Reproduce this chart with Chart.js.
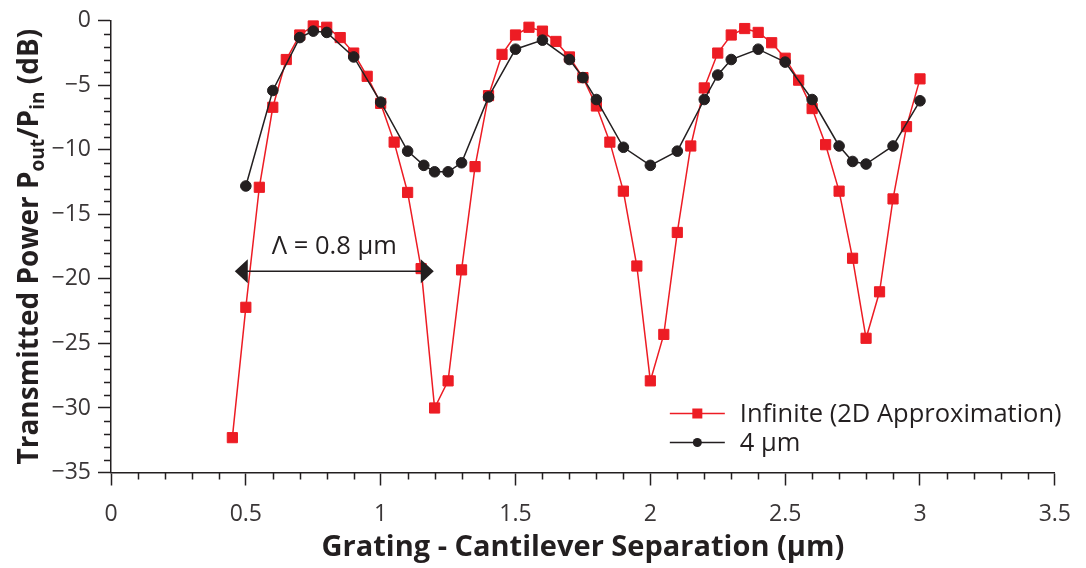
<!DOCTYPE html>
<html>
<head>
<meta charset="utf-8">
<script src="https://cdn.jsdelivr.net/npm/chart.js@4.4.1/dist/chart.umd.min.js"></script>
<style>
  html, body { margin: 0; padding: 0; background: #fff; }
  #wrap { width: 1086px; height: 568px; }
</style>
</head>
<body>
<div id="wrap"><canvas id="chart" width="1086" height="568"></canvas></div>
<script>
// Infinite (2D approximation), red squares
const INFINITE_X = [
  0.45, 0.5, 0.55, 0.6, 0.65, 0.7, 0.75, 0.8, 0.85, 0.9, 0.95, 1.0, 1.05,
  1.1, 1.15, 1.2, 1.25, 1.3, 1.35, 1.4, 1.45, 1.5, 1.55, 1.6, 1.65, 1.7,
  1.75, 1.8, 1.85, 1.9, 1.95, 2.0, 2.05, 2.1, 2.15, 2.2, 2.25, 2.3, 2.35,
  2.4, 2.45, 2.5, 2.55, 2.6, 2.65, 2.7, 2.75, 2.8, 2.85, 2.9, 2.95, 3.0
]
const INFINITE_DB = [
  -32.3, -22.2, -12.9, -6.7, -3.0, -1.1, -0.4, -0.5, -1.3, -2.5, -4.3, -6.4, -9.4,
  -13.3, -19.2, -30.0, -27.9, -19.3, -11.3, -5.8, -2.6, -1.1, -0.5, -0.8, -1.6, -2.8,
  -4.4, -6.6, -9.4, -13.2, -19.0, -27.9, -24.3, -16.4, -9.7, -5.2, -2.5, -1.1, -0.6,
  -0.9, -1.7, -2.9, -4.6, -6.8, -9.6, -13.2, -18.4, -24.6, -21.0, -13.8, -8.2, -4.5
]

// 4 um cantilever, black circles
const FINITE_X = [
  0.5, 0.6, 0.7, 0.75, 0.8, 0.9, 1.0, 1.1, 1.16, 1.2, 1.25, 1.3, 1.4, 1.5, 1.6,
  1.7, 1.75, 1.8, 1.9, 2.0, 2.1, 2.2, 2.25, 2.3, 2.4, 2.5, 2.6, 2.7, 2.75, 2.8,
  2.9, 3.0
]
const FINITE_DB = [
  -12.8, -5.4, -1.3, -0.8, -0.9, -2.8, -6.3, -10.1, -11.2, -11.7, -11.7, -11.0, -5.9, -2.2, -1.5,
  -3.0, -4.4, -6.1, -9.8, -11.2, -10.1, -6.1, -4.2, -3.0, -2.2, -3.2, -6.1, -9.7, -10.9, -11.1,
  -9.7, -6.2
]

const SERIES_LABELS = ['Infinite (2D Approximation)', '4 μm']
const X_TITLE = 'Grating - Cantilever Separation (μm)'

// period marker: arrow between two separations, at a given level
const PERIOD_FROM = 0.459
const PERIOD_TO = 1.197
const PERIOD_DB = -19.4
const PERIOD_LABEL = 'Λ = 0.8 μm'

const RED = '#ed1c24'
const INK = '#231f20'
const FONT = "'Open Sans', 'Noto Sans', sans-serif"

const toPoints = (xs, ys) => xs.map((x, i) => ({ x, y: ys[i] }))

const minus = (v) => (v < 0 ? '\u2212' + Math.abs(v) : String(v))

const decorPlugin = {
  id: 'decor',
  afterDraw: (chart) => {
    const { ctx, chartArea, scales } = chart
    const { x, y } = scales

    ctx.save()
    ctx.strokeStyle = INK
    ctx.lineWidth = 1.5

    // minor ticks
    ctx.beginPath()
    for (let i = 0; i <= 35; i++) {
      if (i % 5 === 0) continue
      const px = Math.round(x.getPixelForValue(i / 10)) + 0.5
      ctx.moveTo(px, chartArea.bottom)
      ctx.lineTo(px, chartArea.bottom + 7)
    }
    for (let i = -35; i <= 0; i++) {
      if (i % 5 === 0) continue
      const py = Math.round(y.getPixelForValue(i)) + 0.5
      ctx.moveTo(chartArea.left, py)
      ctx.lineTo(chartArea.left - 7, py)
    }
    ctx.stroke()

    // y axis title with subscripts
    const parts = [
      { t: 'Transmitted Power P', size: 28, dy: 0 },
      { t: 'out', size: 19, dy: 6 },
      { t: '/P', size: 28, dy: 0 },
      { t: 'in', size: 19, dy: 6 },
      { t: ' (dB)', size: 28, dy: 0 }
    ]
    let total = 0
    parts.forEach((p) => {
      ctx.font = `bold ${p.size}px ${FONT}`
      p.w = ctx.measureText(p.t).width
      total += p.w
    })
    ctx.save()
    ctx.translate(38, (chartArea.top + chartArea.bottom) / 2)
    ctx.rotate(-Math.PI / 2)
    ctx.fillStyle = INK
    ctx.textBaseline = 'alphabetic'
    let cx = -total / 2
    parts.forEach((p) => {
      ctx.font = `bold ${p.size}px ${FONT}`
      ctx.fillText(p.t, cx, p.dy)
      cx += p.w
    })
    ctx.restore()

    // period arrow
    const ax0 = x.getPixelForValue(PERIOD_FROM)
    const ax1 = x.getPixelForValue(PERIOD_TO)
    const ay = y.getPixelForValue(PERIOD_DB)
    ctx.beginPath()
    ctx.moveTo(ax0 + 10, ay)
    ctx.lineTo(ax1 - 10, ay)
    ctx.stroke()
    ctx.fillStyle = INK
    ctx.beginPath()
    ctx.moveTo(ax0, ay)
    ctx.lineTo(ax0 + 13, ay - 12)
    ctx.lineTo(ax0 + 13, ay + 12)
    ctx.closePath()
    ctx.moveTo(ax1, ay)
    ctx.lineTo(ax1 - 13, ay - 12)
    ctx.lineTo(ax1 - 13, ay + 12)
    ctx.closePath()
    ctx.fill()
    ctx.font = `25.5px ${FONT}`
    ctx.textAlign = 'center'
    ctx.textBaseline = 'alphabetic'
    ctx.fillText(PERIOD_LABEL, (ax0 + ax1) / 2, ay - 17)

    // legend
    const lx0 = chartArea.right - 385
    const lx1 = lx0 + 55
    const rows = [chartArea.bottom - 59, chartArea.bottom - 30]
    ctx.font = `25.5px ${FONT}`
    ctx.textAlign = 'left'
    ctx.textBaseline = 'middle'
    rows.forEach((ry, i) => {
      const col = i === 0 ? RED : INK
      ctx.strokeStyle = col
      ctx.lineWidth = 1.5
      ctx.beginPath()
      ctx.moveTo(lx0, ry)
      ctx.lineTo(lx1, ry)
      ctx.stroke()
      ctx.fillStyle = col
      const mx = (lx0 + lx1) / 2
      if (i === 0) {
        ctx.fillRect(mx - 5, ry - 5, 10, 10)
      } else {
        ctx.beginPath()
        ctx.arc(mx, ry, 4.5, 0, Math.PI * 2)
        ctx.fill()
      }
      ctx.fillStyle = INK
      ctx.fillText(SERIES_LABELS[i], lx1 + 15, ry + 1)
    })

    ctx.restore()
  }
}

const CONFIG = {
  type: 'line',
  data: {
    datasets: [
      {
        label: SERIES_LABELS[1],
        data: toPoints(FINITE_X, FINITE_DB),
        borderColor: INK,
        backgroundColor: INK,
        borderWidth: 1.5,
        pointStyle: 'circle',
        pointRadius: 5.3,
        pointBorderWidth: 1,
        tension: 0,
        clip: false,
        order: 0
      },
      {
        label: SERIES_LABELS[0],
        data: toPoints(INFINITE_X, INFINITE_DB),
        borderColor: RED,
        backgroundColor: RED,
        borderWidth: 1.5,
        pointStyle: 'rect',
        pointRadius: 7.2,
        pointBorderWidth: 1,
        tension: 0,
        clip: false,
        order: 1
      }
    ]
  },
  options: {
    responsive: false,
    animation: false,
    devicePixelRatio: 1,
    layout: {
      padding: { top: 16, right: 27, left: 0, bottom: 0 }
    },
    plugins: {
      legend: { display: false },
      tooltip: { enabled: false }
    },
    scales: {
      x: {
        type: 'linear',
        min: 0,
        max: 3.5,
        afterFit: (scale) => { scale.height = 95.5 },
        border: { display: true, color: INK, width: 1.5 },
        grid: {
          drawOnChartArea: false,
          drawTicks: true,
          tickLength: 13,
          tickColor: INK,
          tickWidth: 1.5
        },
        ticks: {
          stepSize: 0.5,
          color: '#3a3637',
          padding: 15,
          font: { family: FONT, size: 23 },
          maxRotation: 0,
          callback: (v) => String(v)
        },
        title: {
          display: true,
          text: X_TITLE,
          color: INK,
          font: { family: FONT, size: 29, weight: 'bold' },
          padding: { top: 0, bottom: 3 }
        }
      },
      y: {
        type: 'linear',
        min: -35,
        max: 0,
        afterFit: (scale) => { scale.width = 111 },
        border: { display: true, color: INK, width: 1.5 },
        grid: {
          drawOnChartArea: false,
          drawTicks: true,
          tickLength: 13,
          tickColor: INK,
          tickWidth: 1.5
        },
        ticks: {
          stepSize: 5,
          color: '#3a3637',
          padding: 7,
          font: { family: FONT, size: 23 },
          callback: (v) => minus(v)
        }
      }
    }
  },
  plugins: [decorPlugin]
}

// eslint-disable-next-line no-unused-vars
const chart = new Chart(document.getElementById('chart'), CONFIG)
</script>
</body>
</html>
